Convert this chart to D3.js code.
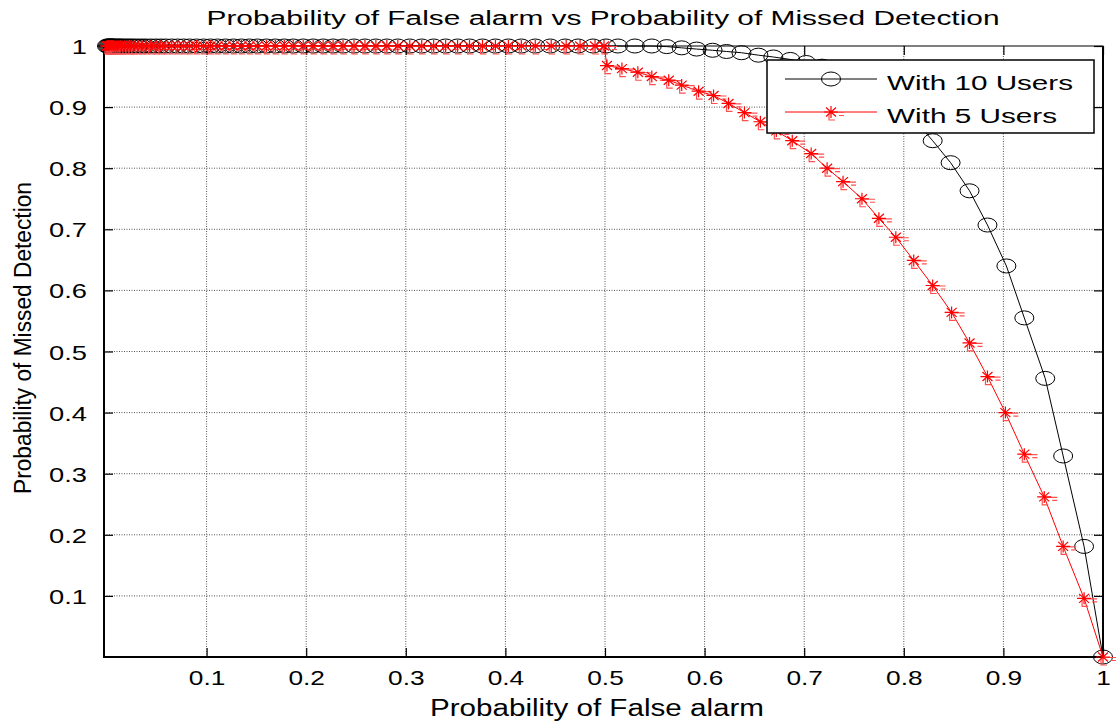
<!DOCTYPE html>
<html>
<head>
<meta charset="utf-8">
<script src="https://cdn.jsdelivr.net/npm/d3@7"></script>
<style>
  body { margin: 0; background: #fff; }
  text { font-family: "Liberation Sans", Arial, sans-serif; fill: #000; }
</style>
</head>
<body>
<div id="chart"></div>
<script>
// values (Pf on x, Pmd on y)
var pfTen = [0.000, 0.001, 0.002, 0.003, 0.004, 0.005, 0.006, 0.007, 0.009, 0.011,
  0.013, 0.015, 0.018, 0.021, 0.024, 0.027, 0.031, 0.035, 0.039, 0.044,
  0.049, 0.054, 0.059, 0.065, 0.071, 0.077, 0.083, 0.090, 0.097, 0.104,
  0.111, 0.119, 0.127, 0.135, 0.143, 0.151, 0.160, 0.169, 0.178, 0.187,
  0.197, 0.207, 0.217, 0.227, 0.237, 0.248, 0.259, 0.270, 0.281, 0.292,
  0.304, 0.316, 0.328, 0.340, 0.352, 0.364, 0.377, 0.390, 0.403, 0.416,
  0.430, 0.445, 0.460, 0.473, 0.488, 0.501, 0.513, 0.530, 0.547, 0.562,
  0.577, 0.592, 0.608, 0.622, 0.637, 0.654, 0.669, 0.686, 0.702, 0.718,
  0.734, 0.750, 0.766, 0.782, 0.797, 0.813, 0.829, 0.847, 0.866, 0.884,
  0.903, 0.921, 0.942, 0.960, 0.981, 1.000];
var pmdTen = [1, 1, 1, 1, 1, 1, 1, 1, 1, 1,
  1, 1, 1, 1, 1, 1, 1, 1, 1, 1,
  1, 1, 1, 1, 1, 1, 1, 1, 1, 1,
  1, 1, 1, 1, 1, 1, 1, 1, 1, 1,
  1, 1, 1, 1, 1, 1, 1, 1, 1, 1,
  1, 1, 1, 1, 1, 1, 1, 1, 1, 1,
  1, 1, 1, 1, 1, 1, 1, 1, 1, 0.999,
  0.997, 0.995, 0.993, 0.991, 0.989, 0.985, 0.982, 0.978, 0.973, 0.967,
  0.959, 0.949, 0.936, 0.920, 0.900, 0.875, 0.845, 0.809, 0.763, 0.707,
  0.640, 0.555, 0.456, 0.329, 0.181, 0.000];

var pfFive = [0.000, 0.001, 0.002, 0.003, 0.004, 0.005, 0.006, 0.007, 0.009, 0.011,
  0.013, 0.015, 0.018, 0.021, 0.024, 0.027, 0.031, 0.035, 0.039, 0.044,
  0.049, 0.054, 0.059, 0.065, 0.071, 0.077, 0.083, 0.090, 0.097, 0.104,
  0.111, 0.119, 0.127, 0.135, 0.143, 0.151, 0.160, 0.169, 0.178, 0.187,
  0.197, 0.207, 0.217, 0.227, 0.237, 0.248, 0.259, 0.270, 0.281, 0.292,
  0.304, 0.316, 0.328, 0.340, 0.352, 0.364, 0.377, 0.390, 0.403, 0.416,
  0.430, 0.446, 0.461, 0.475, 0.490, 0.499, 0.502, 0.517, 0.533, 0.547,
  0.564, 0.577, 0.594, 0.609, 0.624, 0.640, 0.656, 0.672, 0.688, 0.707,
  0.723, 0.739, 0.758, 0.775, 0.792, 0.810, 0.829, 0.848, 0.866, 0.884,
  0.902, 0.921, 0.941, 0.960, 0.981, 1.000];
var pmdFive = [1, 1, 1, 1, 1, 1, 1, 1, 1, 1,
  1, 1, 1, 1, 1, 1, 1, 1, 1, 1,
  1, 1, 1, 1, 1, 1, 1, 1, 1, 1,
  1, 1, 1, 1, 1, 1, 1, 1, 1, 1,
  1, 1, 1, 1, 1, 1, 1, 1, 1, 1,
  1, 1, 1, 1, 1, 1, 1, 1, 1, 1,
  1, 1, 1, 1, 1, 1, 0.968, 0.963, 0.957, 0.950,
  0.944, 0.936, 0.926, 0.919, 0.906, 0.891, 0.876, 0.861, 0.845, 0.824,
  0.800, 0.778, 0.750, 0.718, 0.687, 0.649, 0.608, 0.564, 0.514, 0.459,
  0.400, 0.332, 0.262, 0.181, 0.096, 0.000];

var xTicks = [0.1, 0.2, 0.3, 0.4, 0.5, 0.6, 0.7, 0.8, 0.9, 1];
var yTicks = [0.1, 0.2, 0.3, 0.4, 0.5, 0.6, 0.7, 0.8, 0.9, 1];
var seriesNames = ["With 10 Users", "With 5 Users"];
var titleText = "Probability of False alarm vs Probability of Missed Detection";
var xLabelText = "Probability of False alarm";
var yLabelText = "Probability of Missed Detection";

// // //

var totalWidth = 1116, totalHeight = 724;
var plot = {left: 104, right: 1103, top: 46, bottom: 657};

var svg = d3.select("#chart").append("svg")
  .attr("width", totalWidth)
  .attr("height", totalHeight);

svg.append("rect").attr("width", totalWidth).attr("height", totalHeight).attr("fill", "#fff");

var xScale = d3.scaleLinear().domain([-0.003, 1]).range([plot.left, plot.right]);
var yScale = d3.scaleLinear().domain([0, 1]).range([plot.bottom, plot.top]);

// stretch text horizontally like the original (figure was widened)
function stretch(sel, factor) {
  sel.each(function() {
    var len = this.getComputedTextLength();
    d3.select(this).attr("textLength", len * factor).attr("lengthAdjust", "spacingAndGlyphs");
  });
}
function fitTo(sel, w) {
  sel.attr("textLength", w).attr("lengthAdjust", "spacingAndGlyphs");
}

// grid, dotted
var grid = svg.append("g").attr("class", "grid");
grid.selectAll(".vgrid")
  .data(xTicks.filter(function(d) { return d < 1; }))
  .enter().append("line")
  .attr("x1", function(d) { return xScale(d); })
  .attr("x2", function(d) { return xScale(d); })
  .attr("y1", plot.top).attr("y2", plot.bottom)
  .attr("stroke", "#555").attr("stroke-width", 1).attr("stroke-dasharray", "1,1.5");
grid.selectAll(".hgrid")
  .data(yTicks.filter(function(d) { return d < 1; }))
  .enter().append("line")
  .attr("y1", function(d) { return yScale(d); })
  .attr("y2", function(d) { return yScale(d); })
  .attr("x1", plot.left).attr("x2", plot.right)
  .attr("stroke", "#555").attr("stroke-width", 1).attr("stroke-dasharray", "1,1.5");

// axes: matlab style, ticks inward on all four sides
var tickLen = 9;
var xAxisBottom = d3.axisBottom(xScale).tickValues(xTicks).tickSize(-tickLen).tickPadding(13).tickFormat(d3.format("~g"));
var xAxisTop = d3.axisTop(xScale).tickValues(xTicks).tickSize(-tickLen).tickFormat("");
var yAxisLeft = d3.axisLeft(yScale).tickValues(yTicks).tickSize(-tickLen).tickPadding(tickLen + 8).tickFormat(d3.format("~g"));
var yAxisRight = d3.axisRight(yScale).tickValues(yTicks).tickSize(-tickLen).tickFormat("");

function styleAxis(g) {
  g.select(".domain").remove();
  g.selectAll(".tick line").attr("stroke", "#000").attr("stroke-width", 1.2);
  g.selectAll(".tick text")
    .attr("font-family", "Liberation Sans, Arial, sans-serif")
    .attr("font-size", 21)
    .attr("fill", "#000");
}

var gx = svg.append("g")
  .attr("transform", "translate(0," + plot.bottom + ")")
  .call(xAxisBottom).call(styleAxis);
svg.append("g")
  .attr("transform", "translate(0," + plot.top + ")")
  .call(xAxisTop).call(styleAxis);
var gy = svg.append("g")
  .attr("transform", "translate(" + plot.left + ",0)")
  .call(yAxisLeft).call(styleAxis);
svg.append("g")
  .attr("transform", "translate(" + plot.right + ",0)")
  .call(yAxisRight).call(styleAxis);

gx.selectAll(".tick text").call(stretch, 1.25);
gy.selectAll(".tick text").attr("dy", "0.36em").call(stretch, 1.3);

// box
svg.append("rect")
  .attr("x", plot.left).attr("y", plot.top)
  .attr("width", plot.right - plot.left).attr("height", plot.bottom - plot.top)
  .attr("fill", "none").attr("stroke", "#000").attr("stroke-width", 1);
svg.append("path")
  .attr("d", "M" + plot.left + "," + plot.top + "V" + plot.bottom + "H" + plot.right + "V" + plot.top)
  .attr("fill", "none").attr("stroke", "#000").attr("stroke-width", 2);

// series
var ten = pfTen.map(function(d, i) { return [d, pmdTen[i]]; });
var five = pfFive.map(function(d, i) { return [d, pmdFive[i]]; });

var line = d3.line()
  .x(function(d) { return xScale(d[0]); })
  .y(function(d) { return yScale(d[1]); });

function drawCircle(g, cx, cy) {
  g.append("ellipse")
    .attr("cx", cx).attr("cy", cy)
    .attr("rx", 9.5).attr("ry", 7)
    .attr("fill", "none").attr("stroke", "#000").attr("stroke-width", 1);
}

// asterisk marker, with the smeared bits the original picture has
function drawStar(g, cx, cy) {
  var s = g.append("g").attr("transform", "translate(" + cx + "," + cy + ")");
  s.append("path")
    .attr("d", "M2,0.5H13M8,3.5H13M-2,2V8H4")
    .attr("stroke", "#ff5050").attr("stroke-width", 1.2).attr("fill", "none");
  s.append("path")
    .attr("d", "M-7,0H7M0,-6V6M-5,-4.5L5,4.5M-5,4.5L5,-4.5")
    .attr("stroke", "#ff0000").attr("stroke-width", 1.2).attr("fill", "none");
}

var gTen = svg.append("g").attr("class", "ten");
gTen.append("path")
  .datum(ten)
  .attr("d", line)
  .attr("fill", "none").attr("stroke", "#000").attr("stroke-width", 1);
ten.forEach(function(d) { drawCircle(gTen, xScale(d[0]), yScale(d[1])); });

var gFive = svg.append("g").attr("class", "five");
gFive.append("path")
  .datum(five)
  .attr("d", line)
  .attr("fill", "none").attr("stroke", "#ff0000").attr("stroke-width", 1);
five.forEach(function(d) { drawStar(gFive, xScale(d[0]), yScale(d[1])); });

// legend
var legend = svg.append("g").attr("class", "legend");
legend.append("rect")
  .attr("x", 767).attr("y", 60).attr("width", 327).attr("height", 73)
  .attr("fill", "#fff").attr("stroke", "#000").attr("stroke-width", 1.5);

var legendRows = [
  {name: seriesNames[0], color: "#000", y: 79, w: 186},
  {name: seriesNames[1], color: "#ff0000", y: 112, w: 170}
];
legendRows.forEach(function(r, i) {
  legend.append("line")
    .attr("x1", 785).attr("x2", 877).attr("y1", r.y).attr("y2", r.y)
    .attr("stroke", r.color).attr("stroke-width", 1);
  if (i == 0) drawCircle(legend, 831, r.y);
  else drawStar(legend, 831, r.y);
  legend.append("text")
    .attr("x", 887).attr("y", r.y + 11)
    .attr("font-size", 20)
    .text(r.name)
    .call(fitTo, r.w);
});

// title and labels
svg.append("text")
  .attr("x", 603).attr("y", 25)
  .attr("text-anchor", "middle")
  .attr("font-size", 20)
  .text(titleText)
  .call(fitTo, 793);

svg.append("text")
  .attr("x", 597).attr("y", 716)
  .attr("text-anchor", "middle")
  .attr("font-size", 23)
  .text(xLabelText)
  .call(fitTo, 334);

svg.append("text")
  .attr("transform", "translate(31,338) rotate(-90)")
  .attr("text-anchor", "middle")
  .attr("font-size", 23)
  .text(yLabelText)
  .call(fitTo, 312);
</script>
</body>
</html>
